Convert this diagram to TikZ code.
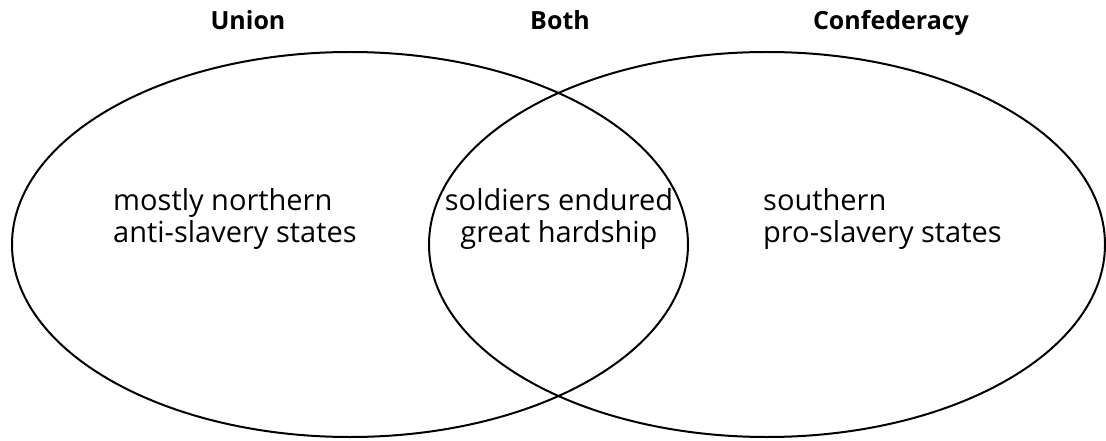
\documentclass[tikz,border=0pt]{standalone}
\usepackage{fontspec}
\setmainfont{Open Sans}
\begin{document}
\begin{tikzpicture}[x=1pt,y=1pt,
  venn/.style={draw=black,line width=2pt},
  body/.style={anchor=base west,inner sep=0pt,font=\fontsize{29}{32}\selectfont},
  bodyc/.style={anchor=base,inner sep=0pt,font=\fontsize{29}{32}\selectfont},
  title/.style={anchor=base,inner sep=0pt,font=\bfseries\fontsize{25}{30}\selectfont}]
\useasboundingbox (0,0) rectangle (1106,440);
\draw[venn] (350,195.5) ellipse [x radius=338, y radius=192.5];
\draw[venn] (767,195.5) ellipse [x radius=338, y radius=192.5];
\node[title] (tu) at (248,410) {Union};
\node[title] (tb) at (560,410) {Both};
\node[title] (tc) at (891,410) {Confederacy};
\node[body] (l1) at (113,230) {mostly northern};
\node[body] (l2) at (113,198) {anti-slavery states};
\node[bodyc] (m1) at (559,230) {soldiers endured};
\node[bodyc] (m2) at (559,198) {great hardship};
\node[body] (r1) at (763,230) {southern};
\node[body] (r2) at (763,198) {pro-slavery states};
\end{tikzpicture}
\end{document}
